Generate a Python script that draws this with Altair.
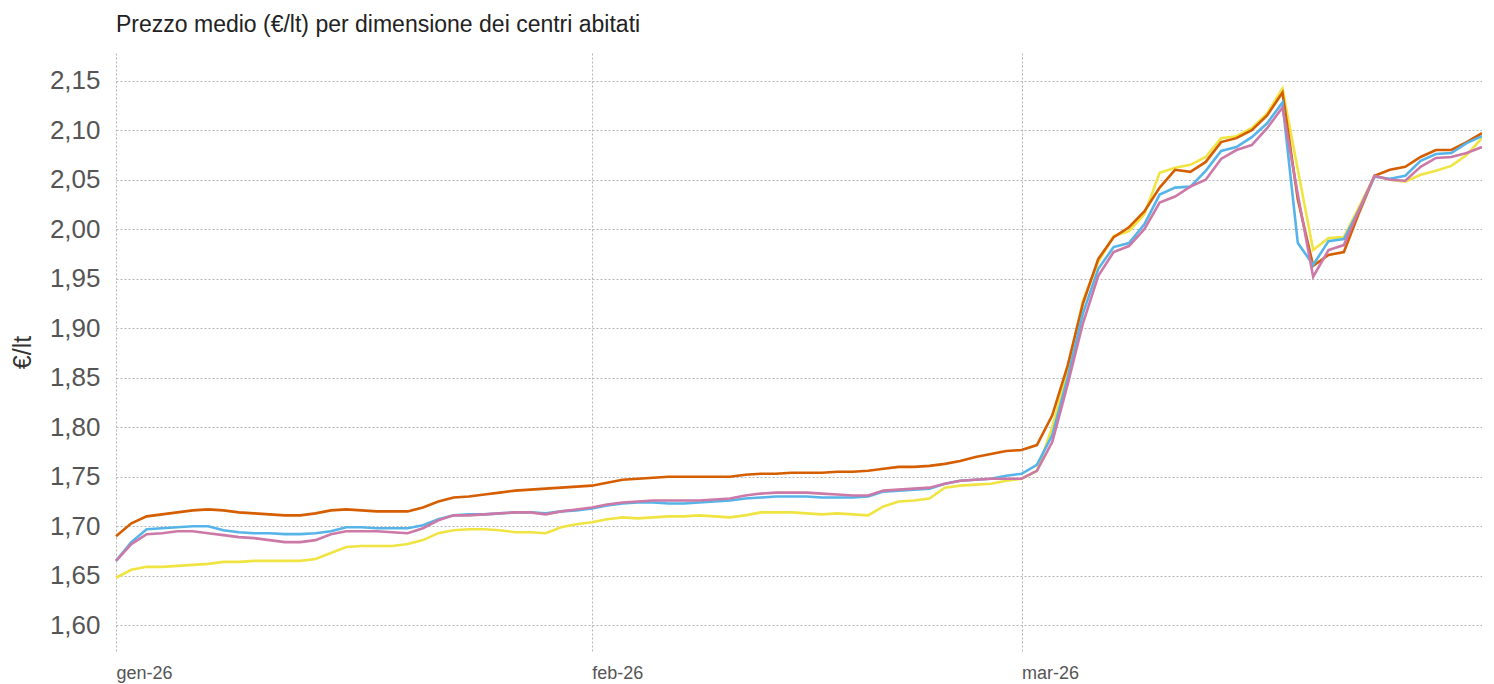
import altair as alt
import pandas as pd

dates = pd.date_range("2026-01-01", "2026-03-31", freq="D").strftime("%Y-%m-%d").tolist()

series_names = ["Serie A", "Serie B", "Serie C", "Serie D"]
colors = ["#F0E442", "#D55E00", "#56B4E9", "#CC79A7"]

orange = [
    1.690, 1.703, 1.710, 1.712, 1.714, 1.716, 1.717, 1.716, 1.714, 1.713,
    1.712, 1.711, 1.711, 1.713, 1.716, 1.717, 1.716, 1.715, 1.715, 1.715,
    1.719, 1.725, 1.729, 1.730, 1.732, 1.734, 1.736, 1.737, 1.738, 1.739,
    1.740,
    1.741, 1.744, 1.747, 1.748, 1.749, 1.750, 1.750, 1.750, 1.750, 1.750,
    1.752, 1.753, 1.753, 1.754, 1.754, 1.754, 1.755, 1.755, 1.756, 1.758,
    1.760, 1.760, 1.761, 1.763, 1.766, 1.770, 1.773, 1.776,
    1.777, 1.782, 1.812, 1.862, 1.925, 1.970, 1.992, 2.002, 2.018, 2.042,
    2.060, 2.058, 2.068, 2.088, 2.092, 2.100, 2.115, 2.138, 2.030, 1.963,
    1.974, 1.977, 2.017, 2.054, 2.060, 2.063, 2.073, 2.080, 2.080, 2.088,
    2.097,
]

blue = [
    1.665, 1.684, 1.697, 1.698, 1.699, 1.700, 1.700, 1.696, 1.694, 1.693,
    1.693, 1.692, 1.692, 1.693, 1.695, 1.699, 1.699, 1.698, 1.698, 1.698,
    1.701, 1.707, 1.711, 1.712, 1.712, 1.713, 1.714, 1.714, 1.713, 1.715,
    1.716,
    1.718, 1.721, 1.723, 1.724, 1.724, 1.723, 1.723, 1.724, 1.725, 1.726,
    1.728, 1.729, 1.730, 1.730, 1.730, 1.729, 1.729, 1.729, 1.730, 1.735,
    1.736, 1.737, 1.738, 1.743, 1.746, 1.747, 1.748, 1.751,
    1.753, 1.762, 1.792, 1.850, 1.915, 1.960, 1.982, 1.986, 2.005, 2.035,
    2.042, 2.043, 2.059, 2.079, 2.083, 2.093, 2.107, 2.128, 1.986, 1.964,
    1.988, 1.990, 2.020, 2.053, 2.051, 2.054, 2.069, 2.076, 2.077, 2.087,
    2.094,
]

pink = [
    1.665, 1.682, 1.692, 1.693, 1.695, 1.695, 1.693, 1.691, 1.689, 1.688,
    1.686, 1.684, 1.684, 1.686, 1.692, 1.695, 1.695, 1.695, 1.694, 1.693,
    1.698, 1.706, 1.711, 1.711, 1.712, 1.713, 1.714, 1.714, 1.712, 1.715,
    1.717,
    1.719, 1.722, 1.724, 1.725, 1.726, 1.726, 1.726, 1.726, 1.727, 1.728,
    1.731, 1.733, 1.734, 1.734, 1.734, 1.733, 1.732, 1.731, 1.731, 1.736,
    1.737, 1.738, 1.739, 1.743, 1.746, 1.747, 1.748, 1.748,
    1.748, 1.756, 1.785, 1.843, 1.905, 1.953, 1.977, 1.983, 2.000, 2.027,
    2.033, 2.043, 2.050, 2.071, 2.080, 2.085, 2.102, 2.123, 2.035, 1.952,
    1.979, 1.984, 2.020, 2.054, 2.050, 2.049, 2.063, 2.072, 2.073, 2.077,
    2.083,
]

yellow = [
    1.648, 1.656, 1.659, 1.659, 1.660, 1.661, 1.662, 1.664, 1.664, 1.665,
    1.665, 1.665, 1.665, 1.667, 1.673, 1.679, 1.680, 1.680, 1.680, 1.682,
    1.686, 1.693, 1.696, 1.697, 1.697, 1.696, 1.694, 1.694, 1.693, 1.699,
    1.702,
    1.704, 1.707, 1.709, 1.708, 1.709, 1.710, 1.710, 1.711, 1.710, 1.709,
    1.711, 1.714, 1.714, 1.714, 1.713, 1.712, 1.713, 1.712, 1.711, 1.720,
    1.725, 1.726, 1.728, 1.739, 1.741, 1.742, 1.743, 1.746,
    1.748, 1.756, 1.800, 1.858, 1.928, 1.967, 1.993, 1.998, 2.015, 2.057,
    2.062, 2.065, 2.073, 2.092, 2.094, 2.102, 2.117, 2.142, 2.060, 1.979,
    1.991, 1.992, 2.023, 2.054, 2.050, 2.048, 2.055, 2.059, 2.064, 2.075,
    2.092,
]

y_ticks = [1.60, 1.65, 1.70, 1.75, 1.80, 1.85, 1.90, 1.95, 2.00, 2.05, 2.10, 2.15]
month_labels = ["gen-26", "feb-26", "mar-26"]

rows = []
for name, vals in zip(series_names, [yellow, orange, blue, pink]):
    for d, v in zip(dates, vals):
        rows.append({"data": d, "serie": name, "prezzo": v})
df = pd.DataFrame(rows)

label_expr = "[" + ",".join("'" + m + "'" for m in month_labels) + "][utcmonth(datum.value)]"

chart = alt.Chart(df).mark_line(strokeWidth=2.6, interpolate="linear").encode(
    x=alt.X(
        "data:T",
        scale=alt.Scale(type="utc", domain=[alt.DateTime(year=2026, month=1, date=1, utc=True),
                                            alt.DateTime(year=2026, month=3, date=31, utc=True)]),
        axis=alt.Axis(
            title=None,
            values=[alt.DateTime(year=2026, month=1, date=1, utc=True),
                    alt.DateTime(year=2026, month=2, date=1, utc=True),
                    alt.DateTime(year=2026, month=3, date=1, utc=True)],
            labelExpr=label_expr,
            labelAlign="left",
            labelBaseline="top",
            labelFlush=False,
            labelPadding=13,
            labelFontSize=18,
            labelColor="#555555",
            ticks=False,
            domain=False,
            grid=True,
            gridDash=[2, 2],
            gridColor="#b5b5b5",
            gridWidth=1,
        ),
    ),
    y=alt.Y(
        "prezzo:Q",
        scale=alt.Scale(domain=[1.574, 2.178], nice=False, zero=False),
        axis=alt.Axis(
            title="€/lt",
            titleFontSize=25,
            titleFontWeight="normal",
            titleColor="#333333",
            titlePadding=14,
            values=y_ticks,
            labelExpr="replace(format(datum.value, '.2f'), '.', ',')",
            labelFontSize=26,
            labelColor="#555555",
            labelPadding=16,
            ticks=False,
            domain=False,
            grid=True,
            gridDash=[2, 2],
            gridColor="#b5b5b5",
            gridWidth=1,
        ),
    ),
    color=alt.Color("serie:N", scale=alt.Scale(domain=series_names, range=colors), legend=None),
).properties(
    width=1366,
    height=598,
    autosize=alt.AutoSizeParams(type="none"),
    padding={"left": 108, "top": 45, "right": 0, "bottom": 33},
    title=alt.Title(
        "Prezzo medio (€/lt) per dimensione dei centri abitati",
        anchor="start",
        frame="group",
        fontSize=23,
        fontWeight="normal",
        color="#222222",
        offset=16,
    ),
).configure(
    font="Liberation Sans",
).configure_view(stroke=None)

chart.save("out.html", embed_options={"renderer": "svg", "actions": False})
